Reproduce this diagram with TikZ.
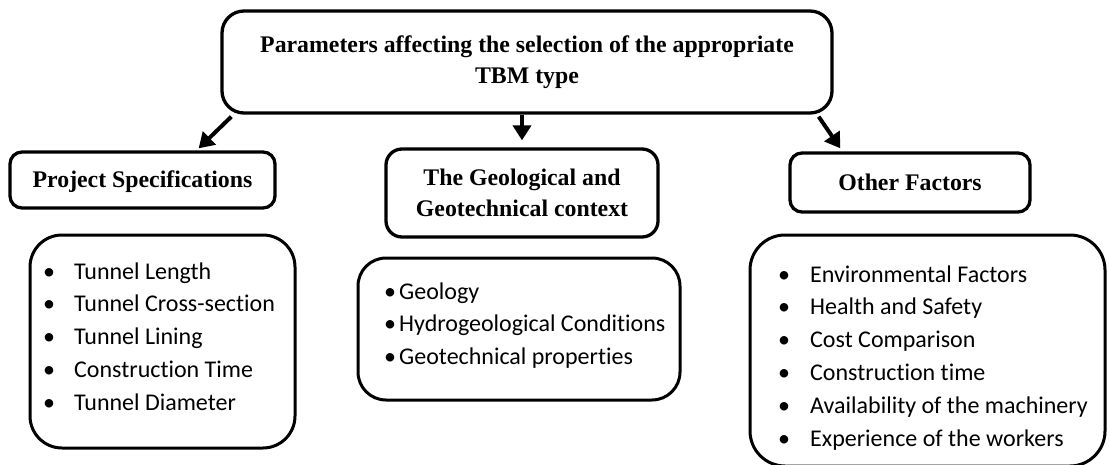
\documentclass[tikz,border=0pt]{standalone}
\usepackage{fontspec}
\setmainfont{Liberation Serif}
\newfontfamily\calib[Ligatures={NoCommon}]{Carlito}
\usetikzlibrary{arrows.meta,calc}
\begin{document}
\begin{tikzpicture}[x=1pt,y=-1pt,
  box/.style={draw=black,line width=3.3pt,inner sep=0pt,align=center,
    font=\bfseries\fontsize{23.8}{31}\selectfont},
  listbox/.style={draw=black,line width=3pt,inner sep=0pt},
  listtext/.style={inner sep=0pt,align=left,anchor=north west,
    font=\calib\fontsize{24}{32.8}\selectfont},
  arr/.style={line width=4pt,-{Triangle[length=15pt,width=18pt]}}
]
\useasboundingbox[fill=white] (0,0) rectangle (1110,465);

\node[box,rounded corners=22pt,minimum width=610pt,minimum height=102pt] (top) at (527,62)
  {\raisebox{6pt}{\begin{tabular}{@{}c@{}}Parameters affecting the selection of the appropriate\\[-0.5pt] TBM type\end{tabular}}};

\node[box,rounded corners=12pt,minimum width=265pt,minimum height=56pt,text height=16pt,text depth=0pt] (proj) at (142.5,180) {Project Specifications};
\node[box,rounded corners=16pt,minimum width=272pt,minimum height=88pt] (geo) at (522,193) {The Geological and\\Geotechnical context};
\node[box,rounded corners=12pt,minimum width=240pt,minimum height=59pt,text height=15pt,text depth=0pt] (other) at (910,182.5) {Other Factors};

\node[listbox,rounded corners=32pt,minimum width=265pt,minimum height=213pt] (projlist) at (162.5,341.5) {};
\node[listbox,rounded corners=28pt,minimum width=322pt,minimum height=142pt] (geolist) at (519,329) {};
\node[listbox,rounded corners=35pt,minimum width=355pt,minimum height=231pt] (otherlist) at (927.5,350.5) {};

\node[listtext] (projitems) at (43,256)
  {\strut\makebox[31pt][l]{•}Tunnel Length\\
   \strut\makebox[31pt][l]{•}Tunnel Cross-section\\
   \strut\makebox[31pt][l]{•}Tunnel Lining\\
   \strut\makebox[31pt][l]{•}Construction Time\\
   \strut\makebox[31pt][l]{•}Tunnel Diameter};

\node[listtext] (geoitems) at (384,276)
  {\strut\makebox[15pt][l]{•}Geology\\
   \strut\makebox[15pt][l]{•}Hydrogeological Conditions\\
   \strut\makebox[15pt][l]{•}Geotechnical properties};

\node[listtext] (otheritems) at (778,259)
  {\strut\makebox[32pt][l]{•}Environmental Factors\\
   \strut\makebox[32pt][l]{•}Health and Safety\\
   \strut\makebox[32pt][l]{•}Cost Comparison\\
   \strut\makebox[32pt][l]{•}Construction time\\
   \strut\makebox[32pt][l]{•}Availability of the machinery\\
   \strut\makebox[32pt][l]{•}Experience of the workers};

\draw[arr] ($(top.south west)+(11,2)$) -- ($(proj.north east)+(-78,-2)$);
\draw[arr] ($(top.south)+(-5,0)$) -- ($(geo.north)+(0,-7)$);
\draw[arr] ($(top.south east)+(-15,2)$) -- ($(other.north west)+(52,-3)$);
\end{tikzpicture}
\end{document}
